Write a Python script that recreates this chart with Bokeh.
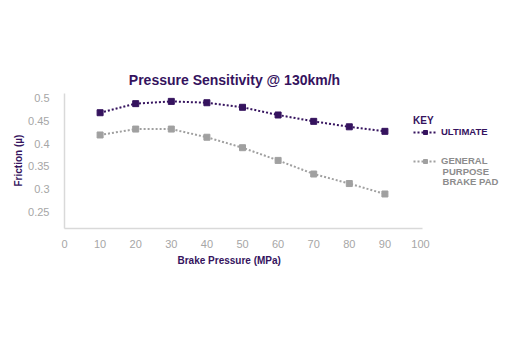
from bokeh.plotting import figure
from bokeh.models import Range1d, Label, Legend, LegendItem, FixedTicker, Title
from bokeh.embed import file_html
from bokeh.resources import INLINE

pressure = [10, 20, 30, 40, 50, 60, 70, 80, 90]
ultimate = [0.468, 0.488, 0.493, 0.490, 0.480, 0.463, 0.449, 0.437, 0.427]
general = [0.419, 0.432, 0.432, 0.414, 0.391, 0.363, 0.333, 0.312, 0.289]
x_ticks = [0, 10, 20, 30, 40, 50, 60, 70, 80, 90, 100]
y_ticks = [0.25, 0.3, 0.35, 0.4, 0.45, 0.5]

PURPLE = "#35135e"
GRAY = "#a0a0a0"
LEG_GRAY = "#8c8c8c"
FONT = "Liberation Sans"

# frame spans x 64..512 and y 0..228 (pixels); axes limited with bounds
p = figure(width=512, height=337, output_backend="svg", toolbar_location=None,
           x_range=Range1d(0, 125.84), y_range=Range1d(0.2130, 0.7152),
           min_border_left=64, min_border_right=0, min_border_top=0, min_border_bottom=109)
p.outline_line_color = None
p.xgrid.visible = False
p.ygrid.visible = False

for ax in (p.xaxis[0], p.yaxis[0]):
    ax.axis_line_color = "#d9d9d9"
    ax.axis_line_width = 1.5
    ax.major_tick_line_color = None
    ax.minor_tick_line_color = None
    ax.major_label_text_color = "#a6a6a6"
    ax.major_label_text_font = FONT
    ax.major_label_text_font_size = "11px"
p.xaxis.bounds = (0, 100.56)
p.yaxis.bounds = (0.2130, 0.5104)
p.xaxis.ticker = FixedTicker(ticks=x_ticks)
p.yaxis.ticker = FixedTicker(ticks=y_ticks)
p.xaxis.major_label_standoff = 5
p.yaxis.major_label_standoff = 9

ylab = Title(text="Friction (\u00b5)", align="left", offset=42, text_font=FONT,
             text_font_style="bold", text_font_size="10px", text_color=PURPLE, standoff=4)
p.add_layout(ylab, "left")

l1 = p.line(pressure, ultimate, line_color=PURPLE, line_width=2, line_dash="2 2")
s1 = p.scatter(pressure, ultimate, marker="square", size=6, fill_color=PURPLE, line_color=PURPLE)
l2 = p.line(pressure, general, line_color=GRAY, line_width=2, line_dash="2 2")
s2 = p.scatter(pressure, general, marker="square", size=6, fill_color=GRAY, line_color=GRAY)

p.add_layout(Label(x=47.75, y=0.539, text="Pressure Sensitivity @ 130km/h", text_align="center",
                   text_baseline="middle", text_font=FONT, text_font_style="bold",
                   text_font_size="14px", text_color=PURPLE))

xlab = Title(text="Brake Pressure (MPa)", align="left", offset=113, text_font=FONT,
             text_font_style="bold", text_font_size="10px", text_color=PURPLE, standoff=5)
p.add_layout(xlab, "below")

def mk_legend(items, loc, color, title=None):
    lg = Legend(items=items, location=loc, padding=0, margin=0, border_line_color=None,
                background_fill_alpha=0, glyph_width=24, glyph_height=10, label_standoff=4,
                label_text_font=FONT, label_text_font_style="bold", label_text_font_size="9.5px",
                label_text_color=color, label_height=10, spacing=0)
    if title:
        lg.title = title
        lg.title_text_font = FONT
        lg.title_text_font_style = "bold"
        lg.title_text_font_size = "10px"
        lg.title_text_color = color
        lg.title_standoff = 0
    return lg

p.add_layout(mk_legend([LegendItem(label="ULTIMATE", renderers=[l1, s1])], (349, 91), PURPLE, "KEY"))
p.add_layout(mk_legend([LegendItem(label="GENERAL", renderers=[l2, s2])], (349, 62), LEG_GRAY))

# continuation lines of the second key entry
for txt, yv in [("PURPOSE", 0.3385), ("BRAKE PAD", 0.3165)]:
    p.add_layout(Label(x=106.2, y=yv, text=txt, text_align="left", text_baseline="middle",
                       text_font=FONT, text_font_style="bold", text_font_size="9.5px",
                       text_color=LEG_GRAY))

open("out.html", "w").write(file_html(p, INLINE))
